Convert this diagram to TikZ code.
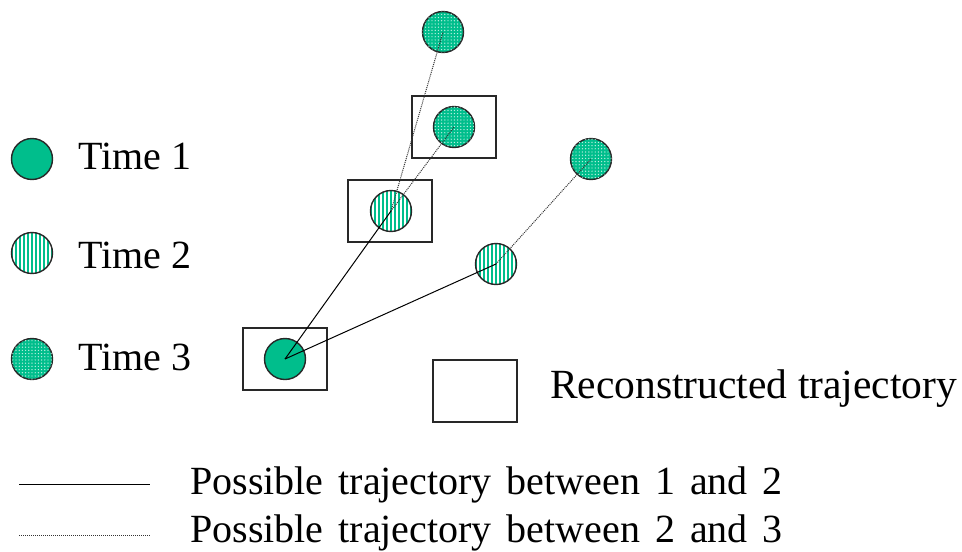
\documentclass[tikz,border=0pt]{standalone}
\usepackage{fontspec}
\setmainfont{Liberation Serif}
\usetikzlibrary{patterns.meta}
\definecolor{teal1}{RGB}{0,190,140}
\definecolor{edge}{RGB}{40,40,40}
\newcommand{\loosewords}{\spaceskip=15pt\relax}
\tikzset{
  dot/.style={circle, draw=edge, line width=1.4pt, minimum size=41pt, inner sep=0pt},
  first/.style={dot, fill=teal1},
  second/.style={dot, fill=white, path picture={
      \foreach \k in {-24,-20,...,24}
        \draw[teal1, line width=1.8pt]
          ([xshift=\k pt]path picture bounding box.north) --
          ([xshift=\k pt]path picture bounding box.south);}},
  third/.style={dot, fill=teal1, postaction={pattern={Dots[radius=0.7pt,distance=3.2pt]}, pattern color=white!75!teal1}},
  recbox/.style={rectangle, draw=edge, line width=1.4pt, minimum width=84pt, minimum height=62pt, inner sep=0pt},
  trajA/.style={draw=black, line width=1pt},
  trajB/.style={draw=black!80, line width=1pt, densely dotted},
  lbl/.style={anchor=base west, inner sep=0pt, font=\fontsize{40}{48}\selectfont},
  big/.style={lbl, font=\fontsize{41.5}{50}\selectfont},
}
\begin{document}
\begin{tikzpicture}[x=1pt, y=-1pt]
  \useasboundingbox (0,0) rectangle (962,552);
  % legend markers
  \node[first]  (l1) at (32,159) {};
  \node[second] (l2) at (32,253) {};
  \node[third]  (l3) at (32,359) {};
  \node[lbl] (t1) at (78,169) {Time 1};
  \node[lbl] (t2) at (78,268) {Time 2};
  \node[lbl] (t3) at (78,370) {Time 3};
  % reconstructed trajectory boxes
  \node[recbox] (b1) at (454,127) {};
  \node[recbox] (b2) at (390,211) {};
  \node[recbox] (b3) at (285,359) {};
  \node[recbox] (bl) at (475,391) {};
  \node[big] (tr) at (550,398) {Reconstructed trajectory};
  % detections
  \node[third]  (p3a) at (443,32) {};
  \node[third]  (p3b) at (454,127) {};
  \node[third]  (p3c) at (591,159) {};
  \node[second] (p2a) at (391,211) {};
  \node[second] (p2b) at (496,264) {};
  \node[first]  (p1)  at (285,359) {};
  % candidate links
  \draw[trajA] (p1.center) -- (p2a.center);
  \draw[trajA] (p1.center) -- (p2b.center);
  \draw[trajB] (p2a.center) -- (p3a.center);
  \draw[trajB] (p2a.center) -- (p3b.center);
  \draw[trajB] (p2b.center) -- (p3c.center);
  % line legend
  \coordinate (s1) at (19,484);
  \coordinate (e1) at (150,484);
  \coordinate (s2) at (19,535);
  \coordinate (e2) at (150,535);
  \draw[trajA] (s1) -- (e1);
  \draw[trajB] (s2) -- (e2);
  \node[lbl] (k1) at (190,494) {\loosewords Possible trajectory between 1 and 2};
  \node[lbl] (k2) at (190,542) {\loosewords Possible trajectory between 2 and 3};
\end{tikzpicture}
\end{document}
